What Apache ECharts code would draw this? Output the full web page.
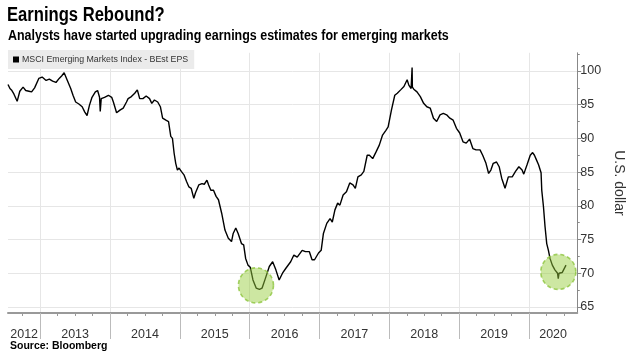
<!DOCTYPE html>
<html><head><meta charset="utf-8">
<script src="https://cdn.jsdelivr.net/npm/echarts@6/dist/echarts.min.js"></script>
<style>html,body{margin:0;padding:0;background:#fff}#c{width:634px;height:358px}</style>
</head><body><div id="c"></div>
<script>
// decimal-year dates and MSCI EM BEst EPS values (USD)
const years = [
2012.539,2012.567,2012.595,2012.623,2012.670,2012.708,2012.755,2012.793,2012.839,2012.877,2012.920,2012.980,
2013.028,2013.085,2013.131,2013.178,2013.226,2013.272,2013.310,2013.343,2013.389,2013.437,2013.470,2013.508,
2013.554,2013.601,2013.639,2013.671,2013.705,2013.742,2013.790,2013.822,2013.850,2013.860,2013.874,2013.921,2013.977,
2014.024,2014.048,2014.094,2014.142,2014.189,2014.236,2014.259,2014.306,2014.354,2014.391,2014.425,2014.471,
2014.518,2014.566,2014.598,2014.636,2014.683,2014.721,2014.753,2014.800,2014.838,2014.870,2014.894,2014.918,
2014.941,2014.965,2014.989,2015.021,2015.059,2015.096,2015.130,2015.162,2015.200,2015.223,2015.271,2015.317,
2015.350,2015.388,2015.412,2015.444,2015.482,2015.519,2015.553,2015.599,2015.646,2015.694,2015.740,2015.764,
2015.801,2015.835,2015.882,2015.914,2015.942,2015.976,2016.008,2016.047,2016.093,2016.140,2016.178,2016.224,
2016.281,2016.329,2016.375,2016.422,2016.470,2016.516,2016.587,2016.633,2016.681,2016.752,2016.798,2016.855,
2016.893,2016.929,2016.986,2017.024,2017.056,2017.104,2017.151,2017.183,2017.221,2017.260,2017.292,2017.338,
2017.386,2017.433,2017.480,2017.513,2017.550,2017.598,2017.635,2017.683,2017.715,2017.762,2017.810,2017.856,
2017.903,2017.951,2017.983,2018.030,2018.078,2018.114,2018.162,2018.209,2018.255,2018.279,2018.312,2018.322,
2018.326,2018.330,2018.350,2018.396,2018.444,2018.491,2018.537,2018.585,2018.632,2018.678,2018.726,2018.773,
2018.820,2018.867,2018.914,2018.961,2019.008,2019.055,2019.101,2019.149,2019.196,2019.242,2019.299,2019.337,
2019.384,2019.422,2019.454,2019.488,2019.535,2019.573,2019.609,2019.657,2019.704,2019.760,2019.807,2019.855,
2019.901,2019.925,2019.972,2020.018,2020.052,2020.078,2020.099,2020.137,2020.173,2020.183,2020.207,2020.230,
2020.254,2020.278,2020.301,2020.334,2020.371,2020.409,2020.419,2020.430,2020.475,2020.503,2020.530
];
const eps = [
98.0,97.4,97.1,96.6,95.5,97.0,97.6,97.1,97.0,96.9,97.5,98.9,
99.1,98.6,98.8,98.5,98.3,98.9,99.3,99.75,98.6,97.4,96.4,95.4,
95.1,94.7,93.9,93.4,94.9,96.1,96.9,97.1,96.1,94.0,95.9,96.1,96.4,
96.1,95.4,93.8,94.2,94.5,95.4,95.9,96.2,96.7,97.2,95.9,95.9,
96.3,95.9,95.2,95.7,95.4,94.7,93.0,92.7,92.5,90.3,90.0,87.8,
86.3,85.3,85.6,85.1,84.6,83.6,82.8,82.6,81.1,81.9,83.1,83.3,
83.2,83.8,83.1,82.3,82.3,81.4,80.9,78.9,76.4,75.2,74.7,75.9,
76.7,75.9,74.4,74.2,72.2,71.2,70.9,69.0,67.8,67.6,67.8,69.2,
71.0,71.7,70.5,69.0,70.0,70.7,71.7,72.7,72.4,73.4,73.2,73.2,
72.0,72.0,73.0,73.4,75.9,77.4,78.1,77.6,79.4,80.4,80.1,81.6,
82.1,83.4,83.1,82.6,84.3,84.6,85.1,87.5,87.5,87.0,88.0,89.0,
90.5,91.2,91.7,94.2,96.4,96.7,97.2,97.7,98.7,97.9,97.4,97.4,
100.5,97.6,97.3,96.9,96.2,95.2,94.7,94.5,93.0,92.5,93.5,93.7,
93.5,93.0,92.7,91.5,90.8,89.5,89.3,89.9,88.5,88.3,88.3,87.5,
86.3,84.8,85.3,86.3,86.5,85.8,84.1,82.6,84.3,84.3,85.1,85.8,
85.3,84.7,86.1,87.5,87.9,87.5,87.0,86.1,84.9,82.3,79.9,76.9,
74.4,73.4,72.2,71.2,70.5,70.0,69.2,70.0,70.1,70.2,71.2
];
const highlightYears = [2016.09, 2020.42];
const highlightValues = [68.2, 70.2];
const yearTicks = [2013,2014,2015,2016,2017,2018,2019,2020];
const yearLabelPos = [2012.77,2013.5,2014.5,2015.5,2016.5,2017.5,2018.5,2019.5,2020.345];
const yearLabels = ['2012','2013','2014','2015','2016','2017','2018','2019','2020'];
const quarterTicks = [2012.75,2013.25,2013.5,2013.75,2014.25,2014.5,2014.75,2015.25,2015.5,2015.75,
  2016.25,2016.5,2016.75,2017.25,2017.5,2017.75,2018.25,2018.5,2018.75,2019.25,2019.5,2019.75,2020.25,2020.5];
const yTicks = [65,70,75,80,85,90,95,100];
const yMinorTicks = [67.5,72.5,77.5,82.5,87.5,92.5,97.5,102.5];
const seriesName = 'MSCI Emerging Markets Index - BEst EPS';
const titleText = 'Earnings Rebound?';
const subtitleText = 'Analysts have started upgrading earnings estimates for emerging markets';
const sourceText = 'Source: Bloomberg';

const SANS = "'Liberation Sans',Arial,sans-serif";
const X0 = 2012.539, X1 = 2020.691, Y0 = 64.1, Y1 = 102.7;

const chart = echarts.init(document.getElementById('c'), null, {renderer: 'canvas'});
chart.setOption({
  animation: false,
  backgroundColor: '#fff',
  title: [
    {text: sourceText, left: 10, top: 341, padding: 0,
     textStyle: {fontSize: 10.5, fontWeight: 'bold', fontFamily: SANS, color: '#000'}}
  ],
  graphic: [
    {type: 'text', x: 7, y: 5, scaleX: 0.83, silent: true,
     style: {text: titleText, font: 'bold 20px ' + SANS, fill: '#000', verticalAlign: 'top'}},
    {type: 'text', x: 8, y: 28, scaleX: 0.86, silent: true,
     style: {text: subtitleText, font: 'bold 14.5px ' + SANS, fill: '#000', verticalAlign: 'top'}}
  ],
  legend: {
    left: 8, top: 50, padding: [5, 6, 5, 5], backgroundColor: '#ebebeb',
    itemWidth: 6, itemHeight: 6, icon: 'rect',
    data: [seriesName],
    textStyle: {fontSize: 8.8, color: '#333', fontFamily: SANS, padding: [0, 0, 0, -2]}
  },
  grid: {left: 8, right: 48, top: 52.8, bottom: 45, containLabel: false},
  xAxis: [
    {type: 'value', min: X0, max: X1,
     axisLine: {show: true, onZero: false, lineStyle: {color: '#999', width: 2}},
     axisTick: {show: true, customValues: yearTicks, length: 26, lineStyle: {color: '#bbb', width: 1}},
     axisLabel: {customValues: yearLabelPos, margin: 15, fontSize: 12.5, color: '#333', fontFamily: SANS,
       formatter: v => { const i = yearLabelPos.findIndex(p => Math.abs(p - v) < 1e-6); return i >= 0 ? yearLabels[i] : ''; }},
     splitLine: {show: true, lineStyle: {color: '#e6e6e6', width: 1}}},
    {type: 'value', min: X0, max: X1, position: 'bottom',
     axisLine: {show: false, onZero: false},
     axisTick: {show: true, customValues: quarterTicks, length: 3, lineStyle: {color: '#999'}},
     axisLabel: {show: false}, splitLine: {show: false}}
  ],
  yAxis: [
    {type: 'value', position: 'right', min: Y0, max: Y1,
     axisLine: {show: true, lineStyle: {color: '#888', width: 1}},
     axisTick: {show: true, customValues: yTicks, length: 4, lineStyle: {color: '#888'}},
     axisLabel: {customValues: yTicks, margin: 3, fontSize: 12.5, color: '#333', fontFamily: SANS},
     splitLine: {show: true, lineStyle: {color: '#e6e6e6', width: 1}},
     name: 'U.S. dollar', nameLocation: 'middle', nameGap: 31, nameRotate: -90,
     nameTextStyle: {fontSize: 14, color: '#333', fontFamily: SANS}},
    {type: 'value', position: 'right', min: Y0, max: Y1,
     axisLine: {show: false},
     axisTick: {show: true, customValues: yMinorTicks, length: 2.5, lineStyle: {color: '#888'}},
     axisLabel: {show: false}, splitLine: {show: false}}
  ],
  series: [
    {name: seriesName, type: 'line', xAxisIndex: 0, yAxisIndex: 0, showSymbol: false, symbol: 'none',
     lineStyle: {color: '#000', width: 1.4}, itemStyle: {color: '#000'}, z: 3,
     data: years.map((t, i) => [t, eps[i]])},
    {name: 'highlight', type: 'scatter', xAxisIndex: 0, yAxisIndex: 0, symbol: 'circle', symbolSize: 35, z: 4,
     itemStyle: {color: 'rgba(150,205,60,0.6)', borderColor: '#8cc43c', borderWidth: 1.6, borderType: [4, 3]},
     data: highlightYears.map((t, i) => [t, highlightValues[i]])}
  ]
});
</script></body></html>
